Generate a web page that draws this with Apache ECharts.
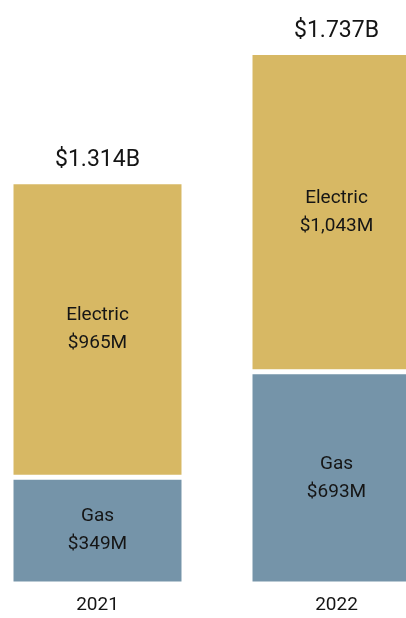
<!DOCTYPE html>
<html>
<head>
<meta charset="utf-8">
<script src="https://cdn.jsdelivr.net/npm/echarts@6/dist/echarts.min.js"></script>
<style>
  html, body { margin: 0; padding: 0; background: #fff; }
  #chart { width: 406px; height: 618px; }
</style>
</head>
<body>
<div id="chart"></div>
<script>
// 数据
const years = ['2021', '2022']
const gasValues = [349, 693]
const electricValues = [965, 1043]
const gasLabels = ['$349M', '$693M']
const electricLabels = ['$965M', '$1,043M']
const totalLabels = ['$1.314B', '$1.737B']

const FONT = 'Roboto, "Liberation Sans Narrow", sans-serif'
const TEXT = '#151515'

var myChart = echarts.init(document.getElementById('chart'))

// 堆叠柱子之间的白缝用白色描边来做
const segStyle = (color) => ({
  color: color,
  borderColor: '#ffffff',
  borderWidth: 2.5
})

const insideLabel = (name, list) => ({
  show: true,
  position: 'inside',
  fontFamily: FONT,
  fontSize: 19,
  lineHeight: 28,
  color: TEXT,
  formatter: p => name + '\n' + list[p.dataIndex]
})

var option = {
  animation: false,
  backgroundColor: '#ffffff',
  grid: { left: -22, width: 478, top: 33, bottom: 34, outerBoundsMode: 'none', containLabel: false },
  xAxis: {
    type: 'category',
    data: years,
    axisLine: { show: false },
    axisTick: { show: false },
    axisLabel: { fontFamily: FONT, fontSize: 19, color: TEXT, margin: 12 }
  },
  yAxis: {
    type: 'value',
    min: 0,
    max: 1800,
    show: false,
    splitLine: { show: false }
  },
  series: [
    {
      name: 'Gas',
      type: 'bar',
      stack: 'total',
      barWidth: 173,
      data: gasValues,
      itemStyle: segStyle('#7594a9'),
      label: insideLabel('Gas', gasLabels)
    },
    {
      name: 'Electric',
      type: 'bar',
      stack: 'total',
      barWidth: 173,
      data: electricValues,
      itemStyle: segStyle('#d7b864'),
      label: insideLabel('Electric', electricLabels)
    },
    {
      // 顶部合计
      name: 'Total',
      type: 'bar',
      stack: 'total',
      barWidth: 173,
      data: years.map(() => 0),
      itemStyle: { color: 'rgba(0,0,0,0)' },
      label: {
        show: true,
        position: 'top',
        distance: 10,
        fontFamily: FONT,
        fontSize: 23,
        color: TEXT,
        formatter: p => totalLabels[p.dataIndex]
      }
    }
  ]
}

myChart.setOption(option)
</script>
</body>
</html>
